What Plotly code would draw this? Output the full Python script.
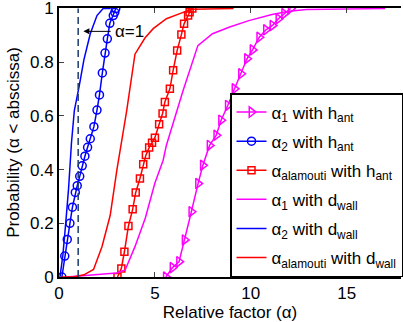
import plotly.graph_objects as go

# alpha_2 with h_ant (blue circles)
a2_h_x = [0.15, 0.30, 0.43, 0.57, 0.70, 0.85, 0.95, 1.08, 1.21, 1.35, 1.49, 1.63,
          1.82, 1.98, 2.11, 2.26, 2.40, 2.52, 2.65, 2.83, 2.91, 2.96]
a2_h_y = [0.0, 0.078, 0.14, 0.20, 0.26, 0.315, 0.34, 0.375, 0.414, 0.45, 0.483, 0.515,
          0.56, 0.622, 0.678, 0.76, 0.834, 0.887, 0.945, 0.974, 0.986, 1.0]

# alpha_alamouti with h_ant (red squares)
aal_h_x = [3.05, 3.25, 3.41, 3.62, 3.84, 4.00, 4.22, 4.39, 4.53, 4.70, 4.85, 5.00,
           5.22, 5.40, 5.52, 5.78, 5.95, 6.16, 6.38, 6.52, 6.73, 6.81, 6.95]
aal_h_y = [0.0, 0.032, 0.094, 0.19, 0.252, 0.315, 0.367, 0.42, 0.454, 0.482, 0.50, 0.519,
           0.569, 0.609, 0.652, 0.701, 0.77, 0.844, 0.903, 0.943, 0.974, 0.986, 1.0]

# alpha_1 with h_ant (magenta triangles)
a1_h_x = [5.57, 5.92, 6.26, 6.55, 6.90, 7.25, 7.50, 7.85, 8.20, 8.45, 8.80, 9.15,
          9.49, 9.80, 10.09, 10.44, 10.79, 11.13, 11.44, 11.74, 12.08]
a1_h_y = [0.0, 0.035, 0.057, 0.138, 0.243, 0.348, 0.416, 0.49, 0.528, 0.584, 0.639, 0.701,
          0.757, 0.813, 0.846, 0.893, 0.921, 0.937, 0.962, 0.981, 1.0]

# alpha_1 with d_wall (magenta solid)
a1_d_x = [0.4, 1.8, 3.0, 3.45, 3.96, 4.5, 5.0, 5.43, 5.6, 6.47, 7.24, 8.0, 8.9, 9.9,
          11.1, 12.0, 12.9, 17.0]
a1_d_y = [0.0, 0.007, 0.015, 0.026, 0.113, 0.22, 0.35, 0.435, 0.491, 0.695, 0.862, 0.906,
          0.931, 0.955, 0.978, 0.99, 0.996, 1.0]

# alpha_2 with d_wall (blue solid)
a2_d_x = [0.05, 0.2, 0.35, 0.5, 0.65, 0.8, 1.05, 1.3, 1.63, 1.98, 2.3, 2.7]
a2_d_y = [0.0, 0.08, 0.2, 0.33, 0.5, 0.62, 0.71, 0.81, 0.906, 0.974, 1.0, 1.0]

# alpha_alamouti with d_wall (red solid)
aal_d_x = [0.1, 0.8, 1.3, 1.8, 2.24, 2.67, 3.02, 3.27, 3.53, 3.96, 4.48, 4.91, 5.6,
           6.3, 6.9, 9.1]
aal_d_y = [0.0, 0.001, 0.008, 0.028, 0.113, 0.23, 0.40, 0.50, 0.62, 0.83, 0.89, 0.925,
           0.962, 0.981, 0.997, 1.0]

x_ticks = [0, 5, 10, 15]
y_ticks = [0, 0.2, 0.4, 0.6, 0.8, 1]
y_tick_text = ["0", "0.2", "0.4", "0.6", "0.8", "1"]

FONT = "Liberation Sans, Arial, sans-serif"

fig = go.Figure()
fig.add_trace(go.Scatter(x=a1_h_x, y=a1_h_y, mode="lines+markers",
                         name="α<sub>1</sub> with h<sub>ant</sub>", legendgroup="g1",
                         line=dict(color="#ff00ff", width=1.5),
                         marker=dict(symbol="triangle-right-open", size=9,
                                     color="#ff00ff", line=dict(width=1.5))))
fig.add_trace(go.Scatter(x=a2_h_x, y=a2_h_y, mode="lines+markers",
                         name="α<sub>2</sub> with h<sub>ant</sub>", legendgroup="g2",
                         line=dict(color="#0000ff", width=1.5),
                         marker=dict(symbol="circle-open", size=8,
                                     color="#0000ff", line=dict(width=1.5))))
fig.add_trace(go.Scatter(x=aal_h_x, y=aal_h_y, mode="lines+markers",
                         name="α<sub>alamouti</sub> with h<sub>ant</sub>", legendgroup="g3",
                         line=dict(color="#ff0000", width=1.5),
                         marker=dict(symbol="square-open", size=7,
                                     color="#ff0000", line=dict(width=1.5))))
fig.add_trace(go.Scatter(x=a1_d_x, y=a1_d_y, mode="lines",
                         name="α<sub>1</sub> with d<sub>wall</sub>", legendgroup="g4",
                         line=dict(color="#ff00ff", width=1.5)))
fig.add_trace(go.Scatter(x=a2_d_x, y=a2_d_y, mode="lines",
                         name="α<sub>2</sub> with d<sub>wall</sub>", legendgroup="g5",
                         line=dict(color="#0000ff", width=1.5)))
fig.add_trace(go.Scatter(x=aal_d_x, y=aal_d_y, mode="lines",
                         name="α<sub>alamouti</sub> with d<sub>wall</sub>", legendgroup="g6",
                         line=dict(color="#ff0000", width=1.5)))
# alpha = 1 reference line
fig.add_trace(go.Scatter(x=[1, 1], y=[0, 1], mode="lines", showlegend=False,
                         line=dict(color="#1f3a70", width=1.5, dash="7px,4px")))

# arrow pointing at the alpha = 1 line
fig.add_annotation(x=1.27, y=0.915, ax=2.77, ay=0.915, axref="x", ayref="y",
                   xref="x", yref="y", text="", showarrow=True,
                   arrowhead=2, arrowsize=1.2, arrowwidth=1, arrowcolor="black")
fig.add_annotation(x=2.80, y=0.915, xref="x", yref="y", text="α=1",
                   showarrow=False, xanchor="left", yanchor="middle",
                   font=dict(family=FONT, size=17, color="black"))

fig.update_layout(
    width=403, height=322,
    margin=dict(l=59, r=0, t=8, b=45),
    paper_bgcolor="white", plot_bgcolor="white",
    font=dict(family=FONT, size=17, color="black"),
    legend=dict(x=0.5, y=0, xanchor="left", yanchor="bottom",
                bordercolor="black", borderwidth=1.5, bgcolor="white",
                font=dict(family=FONT, size=17, color="black"),
                tracegroupgap=4),
    xaxis=dict(range=[0, 17.83], tickvals=x_ticks, ticks="inside", ticklen=5,
               showgrid=False, zeroline=False, showline=True, linecolor="black",
               linewidth=2, mirror="ticks",
               title=dict(text="Relative factor (α)", standoff=2,
                          font=dict(family=FONT, size=17))),
    yaxis=dict(range=[0, 1.002], tickvals=y_ticks, ticktext=y_tick_text,
               ticks="inside", ticklen=5, ticklabeloverflow="allow",
               showgrid=False, zeroline=False, showline=True, linecolor="black",
               linewidth=2,
               title=dict(text="Probability (α < abscissa)", standoff=6,
                          font=dict(family=FONT, size=17))),
)

fig.write_html("out.html")
